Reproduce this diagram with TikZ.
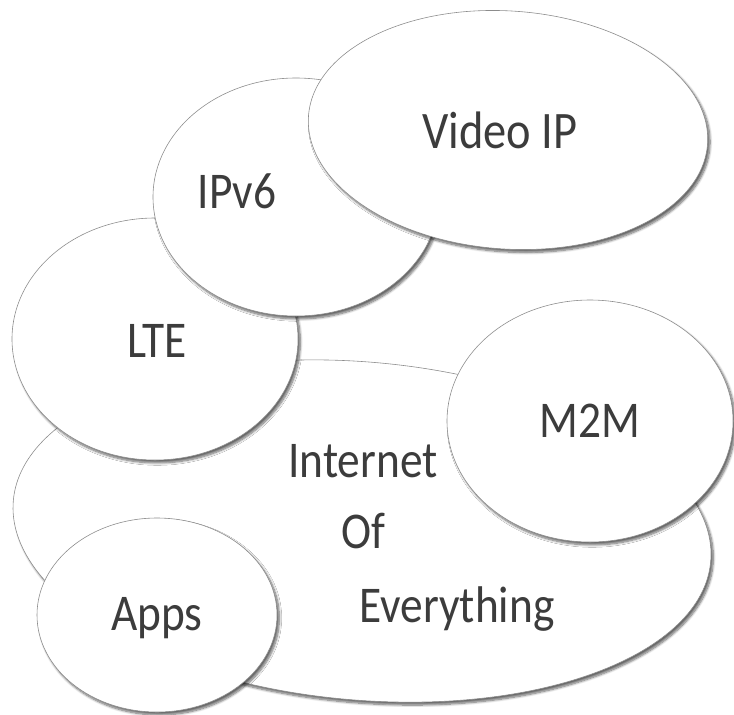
\documentclass[tikz,border=0pt]{standalone}
\usepackage{fontspec}
\setmainfont{Carlito}[FakeStretch=0.88]
\usepackage{tikz}
\usetikzlibrary{shapes.geometric,shadows.blur}
\definecolor{Outline}{RGB}{140,140,140}
\definecolor{Ink}{RGB}{60,60,60}

\begin{document}
\begin{tikzpicture}[x=0.3mm,y=-0.3mm,
  bubble/.style={ellipse,draw=Outline,line width=0.5pt,fill=white,inner sep=0pt,
    blur shadow={shadow xshift=2pt,shadow yshift=-2.5pt,shadow blur radius=2pt,shadow blur steps=8,shadow opacity=60}},
  word/.style={anchor=base,text=Ink,font=\fontsize{44}{52}\selectfont}]
\useasboundingbox (0,0) rectangle (734,714);
% bubbles, back to front
\node[bubble,minimum width=210mm,minimum height=101.4mm,rotate=-5] (ioe) at (362,531) {};
\node[bubble,minimum width=85.8mm,minimum height=72.6mm] (lte) at (155,339) {};
\node[bubble,minimum width=85.8mm,minimum height=71.4mm] (ipv6) at (296,197) {};
\node[bubble,minimum width=120mm,minimum height=71.4mm,rotate=-4] (vid) at (508,130) {};
\node[bubble,minimum width=85.8mm,minimum height=72.6mm] (m2m) at (590,421) {};
\node[bubble,minimum width=72mm,minimum height=58.2mm] (apps) at (157,615) {};
% labels
\node[word,font=\fontsize{45}{52}\selectfont] (tvid) at (500,148) {Video IP};
\node[word] (tipv6) at (237,208) {IPv6};
\node[word] (tlte) at (157,357) {LTE};
\node[word] (tm2m) at (590,437) {M2M};
\node[word] (tint) at (363,477) {Internet};
\node[word] (tof) at (363,548) {Of};
\node[word] (tevery) at (457,622) {Everything};
\node[word] (tapps) at (157,630) {Apps};
\end{tikzpicture}
\end{document}
